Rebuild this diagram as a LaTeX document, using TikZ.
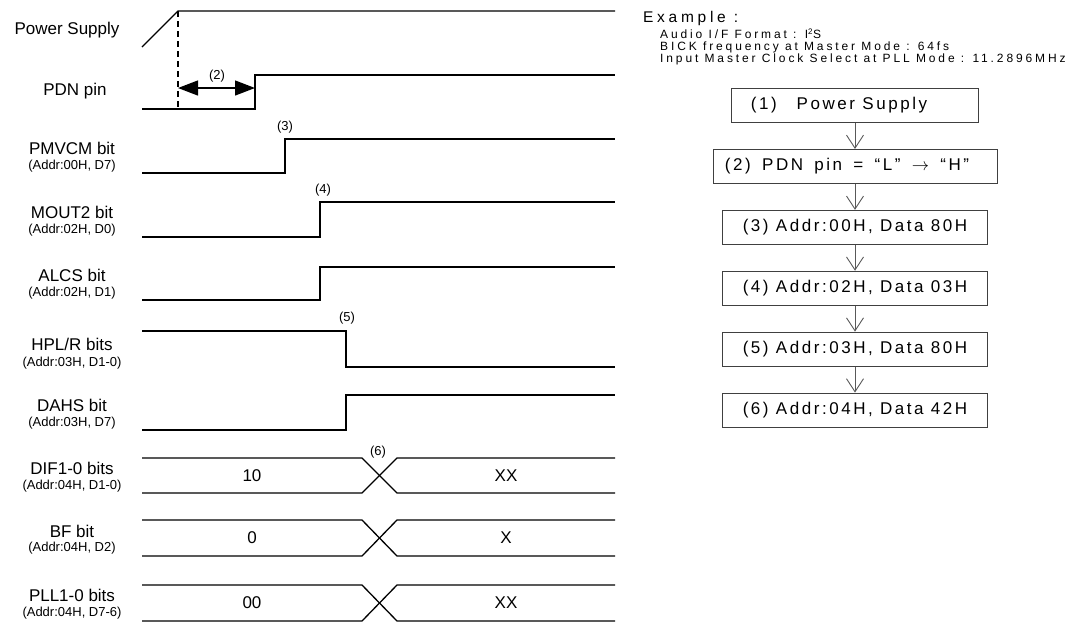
\documentclass[tikz,border=0pt]{standalone}
\usepackage{fontspec}
\setmainfont{Liberation Sans}
\newfontfamily\boxfont{Liberation Sans}[LetterSpace=15]
\newfontfamily\notefont{Liberation Sans}[LetterSpace=24]
\usetikzlibrary{arrows.meta, positioning}

\begin{document}
\begin{tikzpicture}[
    x=1pt, y=-1pt,
    node distance=26pt,
    wave/.style={line width=1.3pt, black},
    signame/.style={font=\fontsize{17}{18}\selectfont, inner sep=0pt},
    sigaddr/.style={font=\fontsize{13}{14}\selectfont, inner sep=0pt},
    busval/.style={font=\fontsize{17}{18}\selectfont, inner sep=0pt},
    tag/.style={font=\fontsize{13}{14}\selectfont, inner sep=0pt},
    note/.style={font=\notefont\fontsize{12}{13}\selectfont, anchor=base west, inner sep=0pt},
    stepbox/.style={rectangle, draw=black!75, line width=0.9pt, minimum height=34pt, inner sep=0pt, font=\boxfont\fontsize{17}{18}\selectfont},
    flow/.style={-{Straight Barb[length=13pt,width=17pt]}, line width=0.9pt, black!65},
    gap/.style={{Triangle[length=20pt,width=15pt]}-{Triangle[length=20pt,width=15pt]}, line width=1.3pt}
]
\useasboundingbox (0,0) rectangle (1069,625);

% Signal names
\node[signame] (psname) at (67,30) {Power Supply};
\node[signame] (pdnname) at (75,91) {PDN pin};
\node[signame] (vcmname) at (72,148) {PMVCM bit};
\node[sigaddr] (vcmaddr) at (72,166) {(Addr:00H, D7)};
\node[signame] (moutname) at (72,212) {MOUT2 bit};
\node[sigaddr] (moutaddr) at (72,230) {(Addr:02H, D0)};
\node[signame] (alcsname) at (72,275) {ALCS bit};
\node[sigaddr] (alcsaddr) at (72,293) {(Addr:02H, D1)};
\node[signame] (hpname) at (72,344) {HPL/R bits};
\node[sigaddr] (hpaddr) at (72,363) {(Addr:03H, D1-0)};
\node[signame] (dahsname) at (72,405) {DAHS bit};
\node[sigaddr] (dahsaddr) at (72,423) {(Addr:03H, D7)};
\node[signame] (difname) at (72,468) {DIF1-0 bits};
\node[sigaddr] (difaddr) at (72,486) {(Addr:04H, D1-0)};
\node[signame] (bfname) at (72,531) {BF bit};
\node[sigaddr] (bfaddr) at (72,548) {(Addr:04H, D2)};
\node[signame] (pllname) at (72,595) {PLL1-0 bits};
\node[sigaddr] (plladdr) at (72,613) {(Addr:04H, D7-6)};

% Waveforms
\draw[wave] (142,47) -- (178,11) coordinate (pson) -- (615,11);
\draw[wave] (142,109) -- (255,109) coordinate (pdnup) -- (255,75) -- (615,75);
\draw[wave] (142,173) -- (285,173) -- (285,139) -- (615,139);
\draw[wave] (142,237) -- (320,237) -- (320,202) -- (615,202);
\draw[wave] (142,300) -- (320,300) -- (320,267) -- (615,267);
\draw[wave] (142,331) -- (346,331) -- (346,367) -- (615,367);
\draw[wave] (142,430) -- (346,430) -- (346,395) -- (615,395);

% Bus values
\draw[wave] (142,458) -- (362,458) -- (397,493) -- (615,493);
\draw[wave] (142,493) -- (362,493) -- (397,458) -- (615,458);
\draw[wave] (142,520) -- (362,520) -- (397,556) -- (615,556);
\draw[wave] (142,556) -- (362,556) -- (397,520) -- (615,520);
\draw[wave] (142,585) -- (362,585) -- (397,621) -- (615,621);
\draw[wave] (142,621) -- (362,621) -- (397,585) -- (615,585);
\node[busval] (difold) at (252,476) {10};
\node[busval] (difnew) at (506,476) {XX};
\node[busval] (bfold) at (252,538) {0};
\node[busval] (bfnew) at (506,538) {X};
\node[busval] (pllold) at (252,603) {00};
\node[busval] (pllnew) at (506,603) {XX};

% Timing marks
\coordinate (psdown) at (178,108);
\coordinate (gapL) at (178,88);
\coordinate (gapR) at (255,88);
\draw[line width=1.3pt, dash pattern=on 6pt off 4pt] (pson) -- (psdown);
\draw[gap] (gapL) -- (gapR);
\node[tag] (t2) at (217,76) {(2)};
\node[tag] (t3) at (285,127) {(3)};
\node[tag] (t4) at (323,190) {(4)};
\node[tag] (t5) at (347,318) {(5)};
\node[tag] (t6) at (378,452) {(6)};

% Example settings
\node[note, font=\notefont\fontsize{15.5}{16}\selectfont] (ex) at (643,22) {Example :};
\node[note] (ex1) at (660,38.5) {Audio I/F Format : I\textsuperscript{2}S};
\node[note] (ex2) at (660,50.5) {BICK frequency at Master Mode : 64fs};
\node[note] (ex3) at (660,62.5) {Input Master Clock Select at PLL Mode : 11.2896MHz};

% Sequence
\node[stepbox, minimum width=247pt] (b1) at (855,105.5) {(1)\kern20pt Power Supply\kern32pt};
\node[stepbox, minimum width=284pt, below=of b1] (b2) {(2)\kern4pt{} PDN\kern4pt{} pin\kern4pt{} =\kern4pt{} “L”\kern4pt{} $\rightarrow$\kern4pt{} “H”\kern16pt};
\node[stepbox, minimum width=265pt, below=of b2] (b3) {(3) Addr:00H, Data 80H};
\node[stepbox, minimum width=265pt, below=of b3] (b4) {(4) Addr:02H, Data 03H};
\node[stepbox, minimum width=265pt, below=of b4] (b5) {(5) Addr:03H, Data 80H};
\node[stepbox, minimum width=265pt, below=of b5] (b6) {(6) Addr:04H, Data 42H};

% Arrows
\draw[flow] (b1) -- (b2);
\draw[flow] (b2) -- (b3);
\draw[flow] (b3) -- (b4);
\draw[flow] (b4) -- (b5);
\draw[flow] (b5) -- (b6);
\end{tikzpicture}
\end{document}
